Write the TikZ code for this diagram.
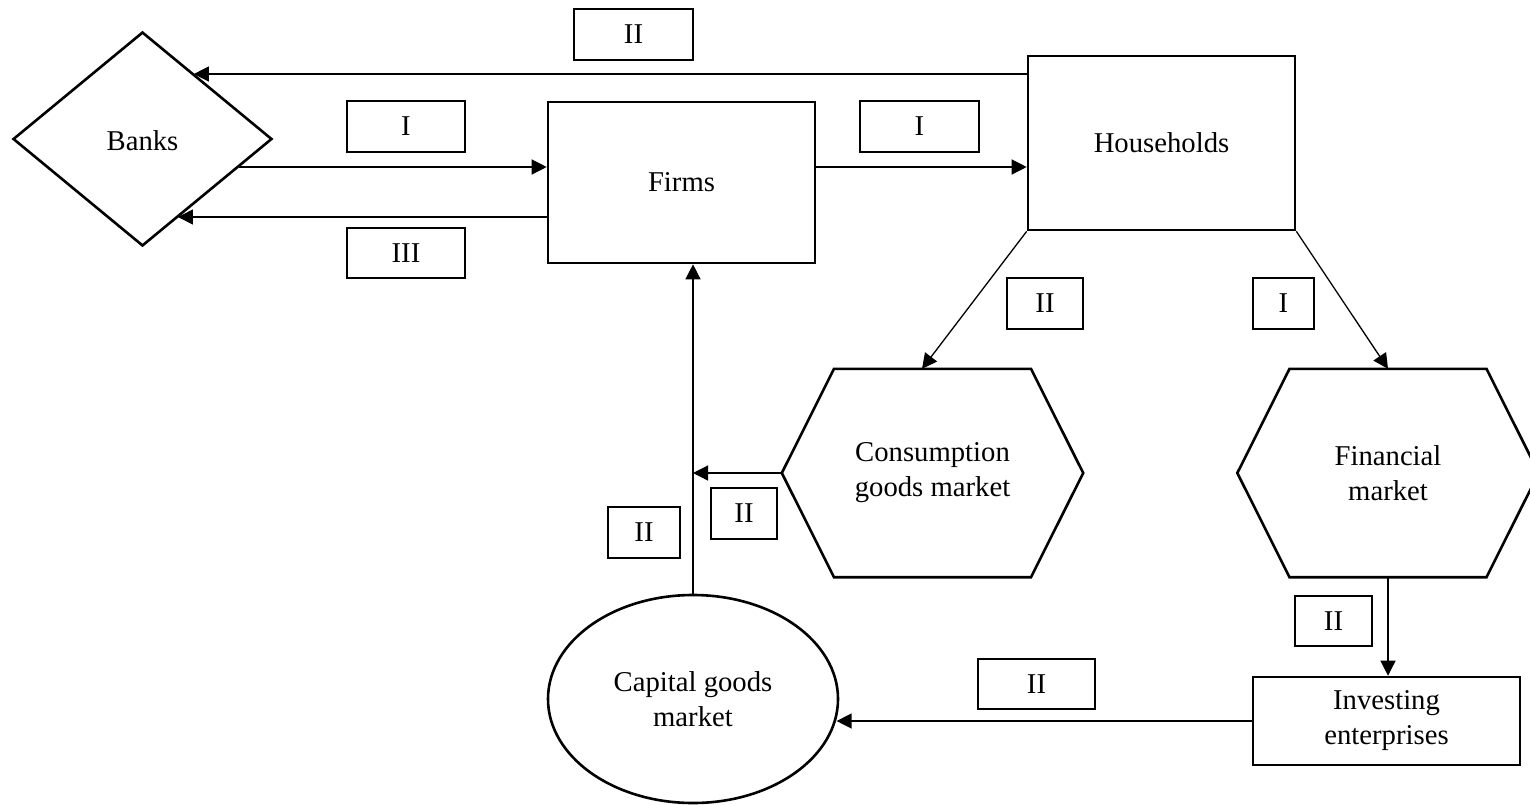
\documentclass[tikz,border=0pt]{standalone}
\usepackage{fontspec}
\setmainfont{Liberation Serif}
\usetikzlibrary{arrows.meta,shapes.geometric,calc}
\begin{document}
\begin{tikzpicture}[x=1pt,y=-1pt,
  every node/.style={font=\fontsize{28.7}{35}\selectfont, inner sep=0pt, align=center},
  box/.style={draw, line width=2.6pt, rectangle},
  lab/.style={draw, line width=2.6pt, rectangle},
  hexnode/.style={minimum width=301pt, minimum height=208pt},
  shapeline/.style={line width=2.6pt, line join=miter},
  conn/.style={line width=1.3pt, -{Triangle[length=15pt,width=15pt]}},
  plain/.style={line width=1.3pt}]
\clip (0,0) rectangle (1530,804);
\useasboundingbox (0,0) rectangle (1530,804);
% main nodes
\node[draw, diamond, line width=2.6pt, minimum width=259pt, minimum height=214pt] (banks) at (142.5,139) {};
\node at (142.5,141) {Banks};
\node[box, minimum width=267pt, minimum height=161pt] (firms) at (681.5,182.5) {Firms};
\node[box, minimum width=267pt, minimum height=174pt] (hh) at (1161.5,143) {Households};
\node[hexnode] (cons) at (932.5,473) {Consumption\\goods market};
\node[hexnode] (fin) at (1388,473) {Financial\\market};
\node[draw, ellipse, line width=2.6pt, minimum width=290pt, minimum height=208pt] (cap) at (693,699) {Capital goods\\market};
\node[box, minimum width=267pt, minimum height=88pt] (inv) at (1386.5,721) {Investing\\enterprises};
% hexagon outlines
\draw[shapeline] (cons.west) -- ($(cons.north)+(-98.5,0)$) -- ($(cons.north)+(98.5,0)$) -- (cons.east) -- ($(cons.south)+(98.5,0)$) -- ($(cons.south)+(-98.5,0)$) -- cycle;
\draw[shapeline] (fin.west) -- ($(fin.north)+(-98.5,0)$) -- ($(fin.north)+(98.5,0)$) -- (fin.east) -- ($(fin.south)+(98.5,0)$) -- ($(fin.south)+(-98.5,0)$) -- cycle;
% labels
\node[lab, minimum width=119pt, minimum height=51pt] (l1) at (633.5,34.5) {II};
\node[lab, minimum width=118pt, minimum height=51pt] (l2) at (406,126.5) {I};
\node[lab, minimum width=118pt, minimum height=50pt] (l3) at (406,253) {III};
\node[lab, minimum width=119pt, minimum height=51pt] (l4) at (919.5,126.5) {I};
\node[lab, minimum width=76pt, minimum height=51pt] (l5) at (1045,303.5) {II};
\node[lab, minimum width=61pt, minimum height=51pt] (l6) at (1283.5,303.5) {I};
\node[lab, minimum width=66pt, minimum height=51pt] (l7) at (744,513.5) {II};
\node[lab, minimum width=72pt, minimum height=51pt] (l8) at (644,532.5) {II};
\node[lab, minimum width=77pt, minimum height=50pt] (l9) at (1333.5,621) {II};
\node[lab, minimum width=117pt, minimum height=50pt] (l10) at (1036.5,684) {II};
% row coordinates
\coordinate (rowA) at (0,74);
\coordinate (rowB) at (0,167);
\coordinate (rowC) at (0,217);
\coordinate (bA) at ($(banks.north)!0.3925!(banks.east)$);
\coordinate (bB) at ($(banks.east)!0.2617!(banks.south)$);
\coordinate (bC) at ($(banks.east)!0.729!(banks.south)$);
\coordinate (consTop) at ($(cons.north)+(-10.5,0)$);
% connectors
\draw[conn] (hh.west |- rowA) -- (bA |- rowA);
\draw[conn] (bB |- rowB) -- (firms.west |- rowB);
\draw[conn] (firms.west |- rowC) -- (bC |- rowC);
\draw[conn] (firms.east |- rowB) -- (hh.west |- rowB);
\draw[conn] (hh.south west) -- (consTop);
\draw[conn] (hh.south east) -- (fin.north);
\draw[conn] (cons.west) -- (cap.north |- cons.west);
\draw[conn] (cap.north) -- (cap.north |- firms.south);
\draw[conn] (fin.south) -- (fin.south |- inv.north);
\draw[conn] (inv.west) -- (cap.-8.8 |- inv.west);
\end{tikzpicture}
\end{document}
